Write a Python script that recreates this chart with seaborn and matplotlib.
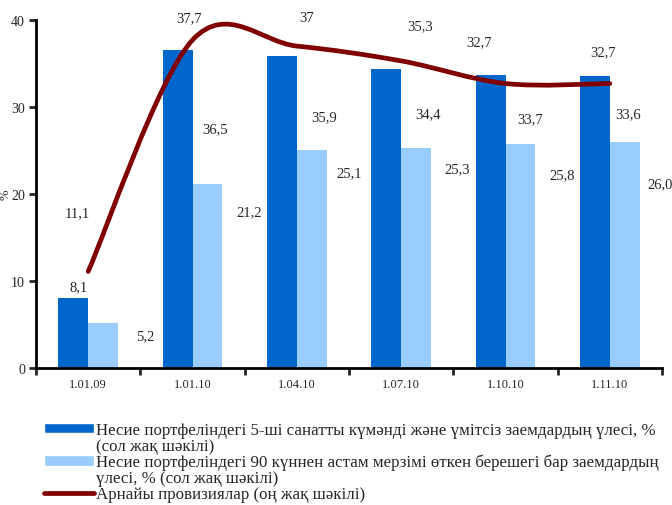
import matplotlib
matplotlib.use('Agg')
import matplotlib.pyplot as plt
import seaborn as sns
import pandas as pd
import numpy as np
from matplotlib.path import Path
from matplotlib.patches import PathPatch, Patch
from matplotlib.lines import Line2D

# данные
dates = ['1.01.09', '1.01.10', '1.04.10', '1.07.10', '1.10.10', '1.11.10']
doubtful = [8.1, 36.5, 35.9, 34.4, 33.7, 33.6]
overdue = [5.2, 21.2, 25.1, 25.3, 25.8, 26.0]
provisions = [11.1, 37.7, 37.0, 35.3, 32.7, 32.7]

name_doubtful = 'Несие портфеліндегі 5-ші санатты күмәнді және үмітсіз заемдардың үлесі, %'
name_doubtful_2 = '(сол жақ шәкілі)'
name_overdue = 'Несие портфеліндегі 90 күннен астам мерзімі өткен берешегі бар заемдардың'
name_overdue_2 = 'үлесі, % (сол жақ шәкілі)'
name_prov = 'Арнайы провизиялар (оң жақ шәкілі)'

# where the value labels sit in the picture (category units, axis units)
pos_doubtful = [(-0.09, 9.3), (1.22, 27.5), (2.26, 28.9), (3.26, 29.2), (4.24, 28.7), (5.17, 29.2)]
pos_overdue = [(0.55, 3.7), (1.54, 18.0), (2.50, 22.4), (3.54, 22.9), (4.54, 22.2), (5.48, 21.2)]
pos_prov = [(-0.10, 17.9), (0.97, 40.3), (2.09, 40.3), (3.18, 39.3), (3.75, 37.5), (4.93, 36.4)]

c_dark = '#0066CC'
c_light = '#99CCFF'
c_line = '#800000'

sns.set_style('ticks')
plt.rcParams['font.family'] = ['Liberation Serif', 'DejaVu Serif']

df = pd.DataFrame({
    'date': dates * 2,
    'value': doubtful + overdue,
    'series': [name_doubtful] * len(dates) + [name_overdue] * len(dates),
})

fig = plt.figure(figsize=(6.72, 5.06), dpi=100)
ax = fig.add_axes([36 / 672, 137 / 506, 626 / 672, 348 / 506])

sns.barplot(data=df, x='date', y='value', hue='series', order=dates,
            hue_order=[name_doubtful, name_overdue], palette=[c_dark, c_light],
            width=0.575, saturation=1, linewidth=0, legend=False, ax=ax, zorder=2)

# сглаженная линия (как в Excel)
pts = np.column_stack([np.arange(len(provisions)), provisions]).astype(float)
verts = [pts[0]]
codes = [Path.MOVETO]
n = len(pts)
for i in range(n - 1):
    p_prev = pts[max(i - 1, 0)]
    p_next2 = pts[min(i + 2, n - 1)]
    c1 = pts[i] + (pts[i + 1] - p_prev) / 6
    c2 = pts[i + 1] - (p_next2 - pts[i]) / 6
    verts += [c1, c2, pts[i + 1]]
    codes += [Path.CURVE4] * 3
ax.add_patch(PathPatch(Path(verts, codes), fill=False, edgecolor=c_line,
                       linewidth=3.4, capstyle='round', joinstyle='round', zorder=3))

fs = 10.5
for v, (x, y) in zip(doubtful, pos_doubtful):
    ax.text(x, y, f'{v:.1f}'.replace('.', ','), ha='center', va='center', fontsize=fs, clip_on=False)
for v, (x, y) in zip(overdue, pos_overdue):
    ax.text(x, y, f'{v:.1f}'.replace('.', ','), ha='center', va='center', fontsize=fs, clip_on=False)
for v, (x, y) in zip(provisions, pos_prov):
    ax.text(x, y, f'{v:g}'.replace('.', ','), ha='center', va='center', fontsize=fs, clip_on=False)

ax.set_xlim(-0.5, len(dates) - 0.5)
ax.set_ylim(0, 40)
ax.set_yticks([0, 10, 20, 30, 40])
ax.tick_params(axis='y', labelsize=10, length=5, width=2, direction='out', pad=3)
ax.set_xticks(np.arange(-0.5, len(dates), 1))
ax.set_xticklabels([])
ax.set_xticks(np.arange(len(dates)), minor=True)
ax.set_xticklabels(dates, minor=True)
ax.tick_params(axis='x', which='major', length=5, width=2, direction='out')
ax.tick_params(axis='x', which='minor', length=0, labelsize=9, pad=7)
ax.set_xlabel('')
ax.set_ylabel('%', fontsize=9)
ax.yaxis.set_label_coords(-24 / 626, 0.5)
sns.despine(ax=ax)
for s in ['left', 'bottom']:
    ax.spines[s].set_linewidth(2)
    ax.spines[s].set_color('black')

fs_leg = 12.2
blank = Patch(facecolor='none', edgecolor='none')
handles = [Patch(facecolor=c_dark), blank, Patch(facecolor=c_light), blank,
           Line2D([], [], color=c_line, linewidth=3.4, solid_capstyle='round')]
labels = [name_doubtful, name_doubtful_2, name_overdue, name_overdue_2, name_prov]
fig.legend(handles, labels, loc='upper left', bbox_to_anchor=(44 / 672, 1 - 423 / 506),
           frameon=False, fontsize=fs_leg, handlelength=2.95, handleheight=0.6,
           labelspacing=0.0, handletextpad=0.12, borderaxespad=0, borderpad=0)

fig.savefig('out.png', dpi=100)
